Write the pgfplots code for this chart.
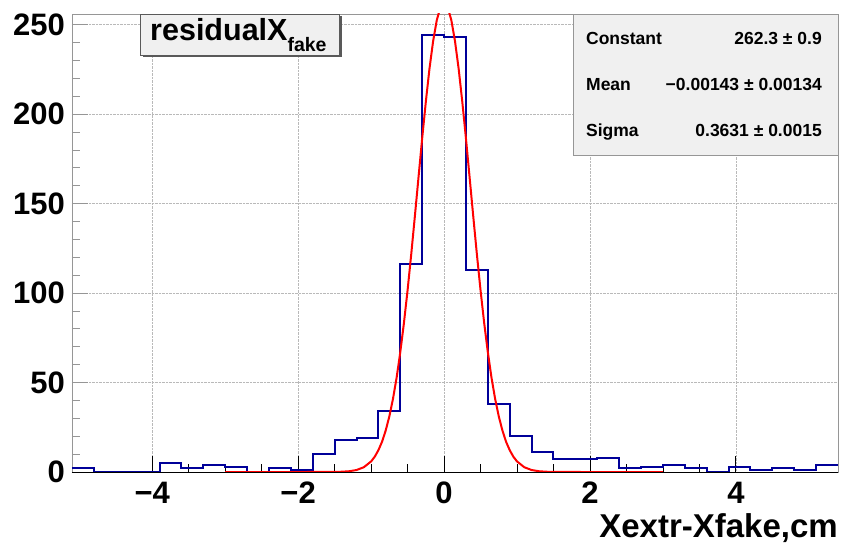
\documentclass[border=0pt]{standalone}
\usepackage{fontspec}
\setmainfont{Liberation Sans}
\usepackage{pgfplots}
\pgfplotsset{compat=1.18}
\definecolor{hblue}{RGB}{0,0,153}
\definecolor{boxgray}{RGB}{240,240,240}
\definecolor{framegray}{RGB}{150,150,150}
\begin{document}
\begin{tikzpicture}
\begin{axis}[
  scale only axis, width=766pt, height=458pt,
  xmin=-5.1, xmax=5.4, ymin=0, ymax=256,
  xtick={-4,-2,0,2,4}, xticklabels={−4,−2,0,2,4},
  ytick={0,50,100,150,200,250}, yticklabels={0,50,100,150,200,250},
  minor x tick num=3, minor y tick num=4,
  xtick pos=lower, ytick pos=left,
  tick align=inside,
  major tick length=16pt, minor tick length=8pt,
  x tick style={black, line width=0.8pt},
  y tick style={framegray, line width=0.8pt},
  axis line style={framegray, line width=0.8pt},
  grid=major, grid style={densely dotted, gray!55, line width=0.6pt},
  /pgf/number format/assume math mode=true,
  tick label style={font=\fontsize{31}{31}\selectfont\bfseries, inner sep=0pt},
  x tick label style={yshift=-10pt},
  y tick label style={xshift=-7pt},
  xlabel={Xextr-Xfake,cm},
  xlabel style={at={(axis description cs:1,0)}, anchor=base east, inner sep=0pt, yshift=-65pt, font=\fontsize{33}{33}\selectfont\bfseries},
]
% histogram: left bin edges and contents
\addplot[const plot, hblue, line width=2pt] coordinates {
(-5.1,2) (-4.8,0) (-4.5,0) (-4.2,0) (-3.9,5) (-3.6,2) (-3.3,4) (-3.0,3)
(-2.7,0) (-2.4,2) (-2.1,1) (-1.8,10) (-1.5,18) (-1.2,19) (-0.9,34) (-0.6,116)
(-0.3,244) (0.0,243) (0.3,113) (0.6,38) (0.9,20) (1.2,11) (1.5,7) (1.8,7)
(2.1,8) (2.4,2) (2.7,3) (3.0,4) (3.3,2) (3.6,0) (3.9,3) (4.2,1) (4.5,2)
(4.8,1) (5.1,4) (5.4,4)
};
% gaussian fit curve (sampled)
\addplot[red, line width=2pt] coordinates {
(-3,0) (-2,0) (-1.7,0.003) (-1.5,0.052) (-1.4,0.155) (-1.3,0.43) (-1.2,1.11)
(-1.1,2.67) (-1.0,5.91) (-0.95,8.56) (-0.9,12.2) (-0.85,16.9) (-0.8,23.2)
(-0.75,31.1) (-0.7,40.9) (-0.65,52.8) (-0.6,67.0) (-0.55,83.3) (-0.5,101.6)
(-0.45,121.7) (-0.4,143.0) (-0.35,164.8) (-0.3,186.5) (-0.25,206.9)
(-0.2,225.4) (-0.15,240.8) (-0.1,252.5) (-0.05,259.8) (0,262.3)
(0.05,259.8) (0.1,252.5) (0.15,240.8) (0.2,225.4) (0.25,206.9) (0.3,186.5)
(0.35,164.8) (0.4,143.0) (0.45,121.7) (0.5,101.6) (0.55,83.3) (0.6,67.0)
(0.65,52.8) (0.7,40.9) (0.75,31.1) (0.8,23.2) (0.85,16.9) (0.9,12.2)
(0.95,8.56) (1.0,5.91) (1.1,2.67) (1.2,1.11) (1.3,0.43) (1.4,0.155)
(1.5,0.052) (1.7,0.003) (2,0) (3,0)
};
% bottom axis line in black
\draw[black, line width=1pt] (rel axis cs:0,0) -- (rel axis cs:1,0);
% stats box
\draw[fill=boxgray, draw=framegray, line width=0.8pt] (rel axis cs:0.654,0.692) rectangle (rel axis cs:1,1);
\node[anchor=base west, inner sep=0pt, font=\fontsize{17.5}{17.5}\selectfont\bfseries] at ([shift={(13pt,-31pt)}]rel axis cs:0.654,1) {Constant};
\node[anchor=base west, inner sep=0pt, font=\fontsize{17.5}{17.5}\selectfont\bfseries] at ([shift={(13pt,-77pt)}]rel axis cs:0.654,1) {Mean};
\node[anchor=base west, inner sep=0pt, font=\fontsize{17.5}{17.5}\selectfont\bfseries] at ([shift={(13pt,-123pt)}]rel axis cs:0.654,1) {Sigma};
\node[anchor=base east, inner sep=0pt, font=\fontsize{17.5}{17.5}\selectfont\bfseries] at ([shift={(-16pt,-31pt)}]rel axis cs:1,1) {262.3 ± 0.9};
\node[anchor=base east, inner sep=0pt, font=\fontsize{17.5}{17.5}\selectfont\bfseries] at ([shift={(-16pt,-77pt)}]rel axis cs:1,1) {−0.00143 ± 0.00134};
\node[anchor=base east, inner sep=0pt, font=\fontsize{17.5}{17.5}\selectfont\bfseries] at ([shift={(-16pt,-123pt)}]rel axis cs:1,1) {0.3631 ± 0.0015};
% title box with shadow
\fill[gray!70!black] ([shift={(2.5pt,-2.5pt)}]rel axis cs:0.0888,0.9105) rectangle ([shift={(2.5pt,-2.5pt)}]rel axis cs:0.3486,1);
\draw[fill=boxgray, draw=gray!70!black, line width=0.8pt] (rel axis cs:0.0888,0.9105) rectangle (rel axis cs:0.3486,1);
\node[anchor=base west, inner sep=0pt, font=\fontsize{30.5}{30.5}\selectfont\bfseries] at ([shift={(10pt,-27pt)}]rel axis cs:0.0888,1) {residualX\raisebox{-0.36em}{\fontsize{19.5}{19.5}\selectfont fake}};
\end{axis}
\pgfresetboundingbox
\path ([shift={(-72pt,-72pt)}]current axis.south west) rectangle ([shift={(3pt,14pt)}]current axis.north east);
\end{tikzpicture}
\end{document}
